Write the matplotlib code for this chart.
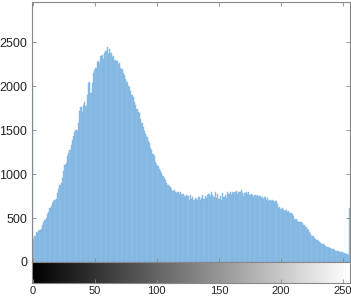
import numpy as np
import matplotlib
matplotlib.use("Agg")
import matplotlib.pyplot as plt

plt.rcParams['font.family'] = ['Liberation Sans', 'DejaVu Sans']

# histogram counts for intensity levels 0..255
counts = [
    2030, 260, 300, 340, 330, 350, 360, 370, 420, 450,
    480, 500, 540, 570, 610, 640, 670, 690, 700, 720,
    780, 830, 870, 900, 960, 1030, 1100, 1130, 1200, 1240,
    1270, 1330, 1390, 1430, 1480, 1500, 1490, 1580, 1720, 1760,
    1700, 1790, 1820, 1770, 1900, 2030, 2050, 1920, 2040, 2150,
    2180, 2210, 2270, 2290, 2260, 2340, 2350, 2310, 2380, 2400,
    2440, 2360, 2420, 2380, 2330, 2340, 2290, 2300, 2280, 2250,
    2260, 2200, 2190, 2150, 2130, 2080, 2050, 2000, 1990, 1940,
    1900, 1880, 1820, 1790, 1740, 1700, 1690, 1620, 1580, 1530,
    1490, 1460, 1420, 1380, 1350, 1300, 1270, 1230, 1200, 1140,
    1110, 1090, 1060, 1030, 1010, 980, 960, 930, 900, 880,
    860, 850, 830, 810, 820, 795, 780, 800, 770, 790,
    760, 775, 750, 740, 760, 745, 700, 760, 720, 740,
    700, 730, 720, 710, 740, 705, 730, 760, 720, 745,
    730, 760, 770, 750, 800, 760, 740, 790, 730, 770,
    720, 750, 700, 780, 740, 760, 730, 800, 770, 790,
    760, 800, 780, 790, 810, 770, 800, 790, 820, 780,
    750, 780, 800, 770, 790, 760, 770, 760, 740, 760,
    750, 760, 740, 750, 730, 740, 720, 740, 700, 730,
    690, 700, 690, 700, 690, 680, 690, 660, 615, 620,
    600, 610, 590, 585, 590, 570, 575, 560, 555, 550,
    520, 480, 490, 470, 460, 455, 450, 440, 420, 420,
    400, 380, 360, 340, 320, 300, 290, 270, 260, 250,
    240, 230, 220, 210, 200, 195, 185, 175, 170, 160,
    155, 150, 145, 140, 130, 125, 120, 115, 115, 110,
    100, 105, 95, 90, 80, 615,
]
levels = np.arange(256)
y_ticks = [0, 500, 1000, 1500, 2000, 2500]
x_ticks = [0, 50, 100, 150, 200, 250]

W, H = 351, 298
fig = plt.figure(figsize=(W / 100, H / 100), dpi=100)
ax = fig.add_axes([32 / W, 1 - 262 / H, 318 / W, 260 / H])
cax = fig.add_axes([32 / W, 1 - 283 / H, 318 / W, 21 / H])

spine_col = '#888888'
ax.bar(levels, counts, width=1.0, color='#8ebfe6', edgecolor='#7db3df', linewidth=0.3)
ax.set_xlim(-0.5, 255.5)
ax.set_ylim(0, 2955)
ax.set_yticks(y_ticks)
ax.set_xticks(x_ticks)
ax.tick_params(axis='both', direction='in', length=3, width=0.6, color=spine_col,
               labelsize=9, labelcolor='#262626', top=True, right=True, labelbottom=False)
for s in ax.spines.values():
    s.set_color(spine_col)
    s.set_linewidth(0.8)

grad = np.arange(256).reshape(1, -1)
cax.imshow(grad, cmap='gray', aspect='auto', extent=(-0.5, 255.5, 0, 1), vmin=0, vmax=255)
cax.set_xlim(-0.5, 255.5)
cax.set_yticks([])
cax.set_xticks(x_ticks)
cax.tick_params(axis='x', direction='in', length=3, width=0.6, color=spine_col,
                labelsize=8, labelcolor='#262626', pad=2)
for s in cax.spines.values():
    s.set_color(spine_col)
    s.set_linewidth(0.8)

fig.savefig('out.png', dpi=100)
